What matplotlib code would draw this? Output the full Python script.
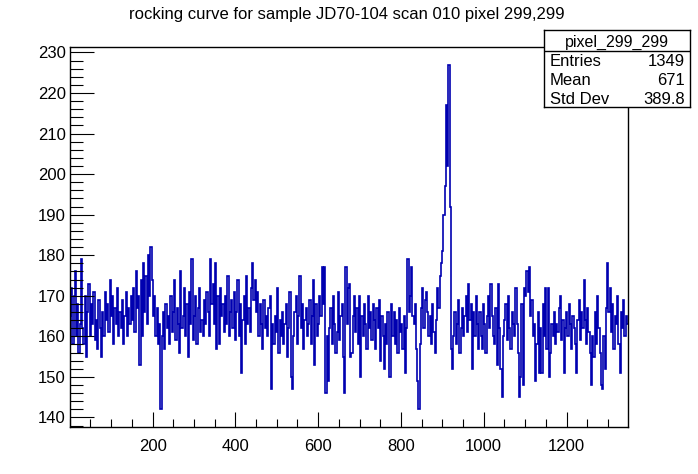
import numpy as np
import matplotlib
matplotlib.use("Agg")
import matplotlib.pyplot as plt
from matplotlib.ticker import MultipleLocator

plt.rcParams['font.family'] = ['Liberation Sans', 'DejaVu Sans']

# counts, each entry covers ~3 scan steps
counts = [
    165, 172, 158, 170, 176, 160, 168, 156, 163, 179,
    162, 158, 170, 155, 166, 173, 160, 168, 163, 171,
    159, 164, 157, 169, 162, 155, 166, 160, 171, 164,
    168, 161, 174, 165, 170, 158, 167, 163, 172, 160,
    166, 162, 169, 158, 165, 171, 160, 167, 163, 170,
    164, 172, 161, 176, 167, 170, 153, 174, 160, 178,
    166, 175, 163, 180, 170, 182, 174, 165, 170, 160,
    167, 158, 163, 142, 160, 166, 157, 168, 162, 165,
    158, 170, 161, 166, 174, 159, 167, 163, 156, 176,
    162, 165, 172, 160, 168, 155, 171, 163, 179, 159,
    165, 170, 158, 167, 172, 161, 164, 160, 169, 163,
    171, 166, 160, 179, 168, 173, 163, 178, 157, 170,
    158, 172, 165, 168, 161, 170, 163, 175, 160, 166,
    169, 162, 171, 159, 166, 174, 160, 168, 151, 164,
    170, 158, 175, 163, 167, 161, 172, 178, 169, 174,
    166, 171, 160, 168, 163, 157, 169, 162, 165, 160,
    167, 170, 147, 163, 158, 165, 161, 172, 156, 164,
    160, 166, 158, 163, 168, 155, 162, 171, 150, 147,
    160, 166, 170, 158, 165, 175, 162, 168, 157, 164,
    167, 160, 163, 169, 158, 165, 174, 153, 168, 160,
    163, 170, 165, 177, 168, 177, 146, 160, 149, 162,
    167, 158, 170, 163, 156, 161, 171, 159, 165, 168,
    155, 146, 177, 163, 172, 173, 155, 156, 165, 170,
    161, 167, 158, 170, 150, 165, 160, 168, 163, 157,
    170, 162, 166, 159, 168, 164, 157, 167, 162, 169,
    154, 165, 160, 152, 163, 158, 166, 150, 150, 168,
    160, 166, 158, 164, 156, 167, 161, 163, 157, 165,
    151, 162, 179, 166, 170, 177, 165, 163, 168, 157,
    149, 142, 158, 167, 172, 162, 169, 171, 166, 160,
    165, 158, 168, 161, 156, 164, 172, 167, 175, 178,
    181, 190, 197, 217, 202, 227, 192, 157, 152, 160,
    166, 158, 163, 169, 156, 162, 167, 160, 165, 170,
    161, 173, 164, 168, 152, 166, 160, 170, 163, 157,
    166, 160, 157, 168, 163, 156, 165, 170, 162, 173,
    165, 160, 158, 167, 153, 173, 162, 152, 145, 160,
    164, 168, 159, 170, 162, 157, 166, 163, 160, 172,
    163, 156, 145, 150, 168, 148, 172, 170, 176, 171,
    177, 165, 169, 160, 163, 149, 158, 166, 151, 162,
    151, 168, 160, 172, 157, 172, 150, 156, 163, 160,
    166, 158, 163, 161, 167, 170, 159, 164, 151, 162,
    166, 160, 168, 163, 157, 165, 162, 158, 151, 164,
    169, 159, 166, 162, 174, 164, 158, 167, 161, 156,
    148, 160, 155, 166, 158, 170, 162, 156, 148, 147,
    160, 152, 167, 178, 166, 172, 161, 168, 157, 165,
    163, 170, 158, 151, 166, 162, 169, 160, 165, 163,
]
n_steps = 1349
title = "rocking curve for sample JD70-104 scan 010 pixel 299,299"
stats_name = "pixel_299_299"
stats_rows = [("Entries", "1349"), ("Mean", "671"), ("Std Dev", "389.8")]

counts = np.array(counts, dtype=float)
edges = np.linspace(0, n_steps, len(counts) + 1)

fig = plt.figure(figsize=(6.98, 4.74), dpi=100)
ax = fig.add_axes([0.1, 0.1, 0.8, 0.8])
ax.stairs(counts, edges, baseline=None, color='#0000b0', lw=1.2)

lo, hi = counts.min(), counts.max()
pad = 0.05 * (hi - lo)
ax.set_xlim(0, n_steps)
ax.set_ylim(lo - pad, hi + pad)

ax.xaxis.set_major_locator(MultipleLocator(200))
ax.xaxis.set_minor_locator(MultipleLocator(50))
ax.yaxis.set_major_locator(MultipleLocator(10))
ax.yaxis.set_minor_locator(MultipleLocator(2))
ax.tick_params(which='both', direction='in', top=False, right=False,
               labelsize=12, width=0.8)
ax.tick_params(axis='x', which='major', length=11, pad=9)
ax.tick_params(axis='x', which='minor', length=6)
ax.tick_params(axis='y', which='major', length=17, pad=3)
ax.tick_params(axis='y', which='minor', length=9)
ax.set_xticks([t for t in range(200, 1400, 200)])
for s in ax.spines.values():
    s.set_linewidth(1.0)

fig.text(0.497, 0.970, title, ha='center', va='center', fontsize=12)

# stats box
box = fig.add_axes([544 / 698, 1 - 107 / 474, 146 / 698, 77 / 474])
box.set_xlim(0, 146)
box.set_ylim(77, 0)
box.set_xticks([])
box.set_yticks([])
for s in box.spines.values():
    s.set_linewidth(1.0)
box.axhline(21, color='black', lw=1.0)
box.text(73, 12, stats_name, ha='center', va='center', fontsize=11.5)
for k, (lab, val) in enumerate(stats_rows):
    yy = 32 + k * 18.5
    box.text(6, yy, lab, ha='left', va='center', fontsize=12)
    box.text(141, yy, val, ha='right', va='center', fontsize=12)

fig.savefig("out.png", dpi=100)
